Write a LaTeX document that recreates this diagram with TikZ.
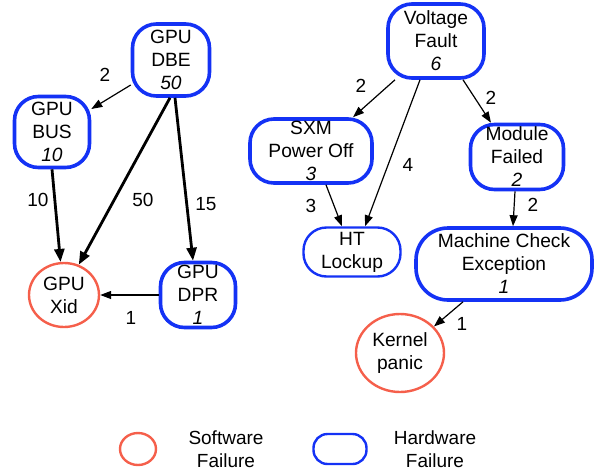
\documentclass[tikz,border=0pt]{standalone}
\usepackage{fontspec}
\setmainfont{Liberation Sans}
\usetikzlibrary{arrows.meta,shapes.geometric}
\definecolor{hwblue}{RGB}{20,50,245}
\definecolor{swred}{RGB}{245,95,75}
\tikzset{
  hw/.style={draw=hwblue, line width=3.6pt, rounded corners=24pt, inner sep=0pt, align=center,
    font=\fontsize{19.2}{23}\selectfont},
  hwthin/.style={hw, line width=2.4pt},
  sw/.style={draw=swred, line width=2.4pt, ellipse, inner sep=0pt, align=center,
    font=\fontsize{19.2}{23}\selectfont},
  thin/.style={line width=1.2pt, -{Triangle[length=11pt,width=8pt]}},
  heavy/.style={line width=2.8pt, -{Triangle[length=13pt,width=10pt]}},
  lbl/.style={font=\fontsize{19}{23}\selectfont, inner sep=0pt},
}
\begin{document}
\begin{tikzpicture}[x=1pt,y=-1pt]
\useasboundingbox (0,0) rectangle (595,472);
% GPU failure chain
\node[hw, minimum width=77, minimum height=72] (dbe) at (171,60) {GPU\\DBE\\\textit{50}};
\node[hw, minimum width=75, minimum height=71] (bus) at (52,132) {GPU\\BUS\\\textit{10}};
\node[hw, minimum width=75, minimum height=65] (dpr) at (198,295) {GPU\\DPR\\\textit{1}};
\node[sw, minimum width=70, minimum height=64] (xid) at (64,295) {GPU\\Xid};
% node chain starting at the voltage fault
\node[hw, minimum width=96, minimum height=74] (vf) at (436,41) {Voltage\\Fault\\\textit{6}};
\node[hw, minimum width=122, minimum height=64] (sxm) at (311,151) {SXM\\Power Off\\\textit{3}};
\node[hw, minimum width=93, minimum height=65] (mf) at (517,157) {Module\\Failed\\\textit{2}};
\node[hwthin, minimum width=97, minimum height=49, rounded corners=23pt] (ht) at (352,252) {HT\\Lockup};
\node[hw, minimum width=176, minimum height=72, rounded corners=32pt] (mce) at (504,264) {Machine Check\\Exception\\\textit{1}};
\node[sw, minimum width=88, minimum height=78] (kp) at (400,353) {Kernel\\panic};
% connectors
\draw[thin] ([yshift=-25pt]dbe.west) -- ([yshift=23pt]bus.east);
\draw[heavy] ([xshift=-1pt]dbe.south) -- (xid.64);
\draw[heavy] ([xshift=4pt]dbe.south) -- ([xshift=-5pt]dpr.north);
\draw[heavy] (bus.south) -- (xid.96);
\draw[thin] (dpr.west) -- (xid.east);
\draw[thin] ([xshift=-41pt]vf.south) -- ([xshift=42pt]sxm.north);
\draw[thin] ([xshift=27pt]vf.south) -- ([xshift=-26pt]mf.north);
\draw[thin] ([xshift=-16pt]vf.south) -- ([xshift=13pt]ht.north);
\draw[thin] ([xshift=15pt]sxm.south) -- ([xshift=-10pt]ht.north);
\draw[thin] ([xshift=-2pt]mf.south) -- ([xshift=9pt]mce.north);
\draw[thin] ([xshift=-41pt]mce.south) -- (kp.38);
% connector counts
\node[lbl] (l1) at (105,75) {2};
\node[lbl] (l2) at (38,200) {10};
\node[lbl] (l3) at (143,200) {50};
\node[lbl] (l4) at (206,204) {15};
\node[lbl] (l5) at (131,318) {1};
\node[lbl] (l6) at (361,86) {2};
\node[lbl] (l7) at (408,165) {4};
\node[lbl] (l8) at (491,98) {2};
\node[lbl] (l9) at (311,206) {3};
\node[lbl] (l10) at (533,205) {2};
\node[lbl] (l11) at (462,324) {1};
% legend
\node[sw, minimum width=36, minimum height=32] (lsw) at (138,449) {};
\node[lbl, align=center] (lswt) at (226,449) {Software\\Failure};
\node[hwthin, minimum width=53, minimum height=30, rounded corners=14pt] (lhw) at (340,449) {};
\node[lbl, align=center] (lhwt) at (435,449) {Hardware\\Failure};
\end{tikzpicture}
\end{document}
